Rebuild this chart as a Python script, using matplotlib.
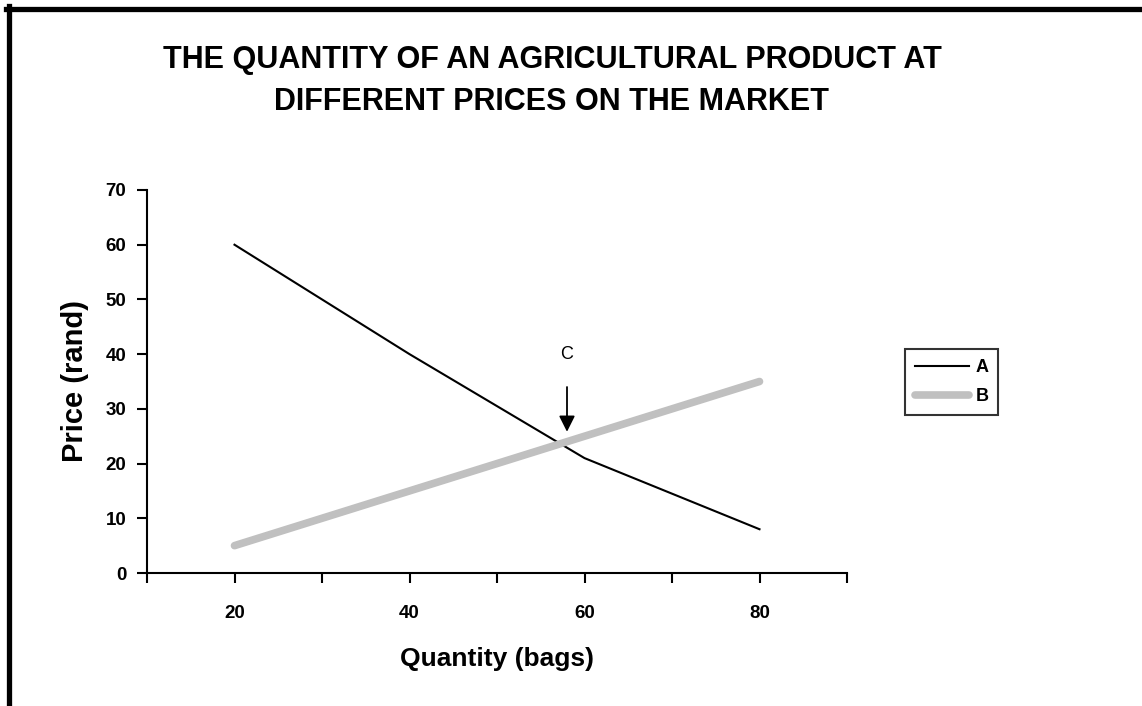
import matplotlib
matplotlib.use("Agg")
import matplotlib.pyplot as plt
from matplotlib.lines import Line2D

plt.rcParams['font.family'] = ['Liberation Sans', 'DejaVu Sans']

# Data
quantity = [20, 40, 60, 80]
price_a = [60, 40, 21, 8]
price_b = [5, 15, 25, 35]
x_labels = ['20', '40', '60', '80']

W, H = 1142, 706
fig = plt.figure(figsize=(W / 100, H / 100), dpi=100)
ax = fig.add_axes([147 / W, 1 - 573 / H, 700 / W, 383 / H])

ax.plot(quantity, price_a, color='black', linewidth=1.5, label='A')
ax.plot(quantity, price_b, color='#c0c0c0', linewidth=5.5, solid_capstyle='round', label='B')

ax.set_xlim(10, 90)
ax.set_ylim(0, 70)
ax.set_xticks(range(10, 91, 10))
ax.set_xticklabels([str(v) if str(v) in x_labels else '' for v in range(10, 91, 10)])
ax.set_yticks(range(0, 71, 10))

for s in ['top', 'right']:
    ax.spines[s].set_visible(False)
for s in ['left', 'bottom']:
    ax.spines[s].set_linewidth(1.5)
ax.tick_params(axis='both', direction='out', length=7, width=1.5, labelsize=13.5)
ax.tick_params(axis='x', pad=16)
ax.tick_params(axis='y', pad=8)
for lab in ax.get_xticklabels() + ax.get_yticklabels():
    lab.set_fontweight('bold')

ax.set_xlabel('Quantity (bags)', fontsize=19, fontweight='bold', labelpad=18)
ax.set_ylabel('Price (rand)', fontsize=21, fontweight='bold', labelpad=12)

# Point C with arrow
ax.annotate('', xy=(58, 25.3), xytext=(58, 34.5),
            arrowprops=dict(arrowstyle='-|>', color='black', lw=1.3, mutation_scale=24))
ax.text(58, 40, 'C', ha='center', va='center', fontsize=13)

fig.text(552 / W, 1 - 81 / H,
         'THE QUANTITY OF AN AGRICULTURAL PRODUCT AT\nDIFFERENT PRICES ON THE MARKET',
         ha='center', va='center', fontsize=22, fontweight='bold', linespacing=1.5)

leg = ax.legend(loc='center left', bbox_to_anchor=(905 / W, 1 - 382 / H),
                bbox_transform=fig.transFigure, frameon=True, fancybox=False,
                fontsize=13, handlelength=3.0, handletextpad=0.35, borderpad=0.55,
                borderaxespad=0, labelspacing=0.65)
leg.get_frame().set_edgecolor('black')
leg.get_frame().set_linewidth(1.5)
for t in leg.get_texts():
    t.set_fontweight('bold')

# Outer frame (left and top borders)
fig.add_artist(Line2D([8.5 / W, 8.5 / W], [0, 1 - 6 / H], transform=fig.transFigure,
                      color='black', linewidth=3.8))
fig.add_artist(Line2D([6 / W, 1], [1 - 8.5 / H, 1 - 8.5 / H], transform=fig.transFigure,
                      color='black', linewidth=3.8))

fig.savefig('out.png', dpi=100)
